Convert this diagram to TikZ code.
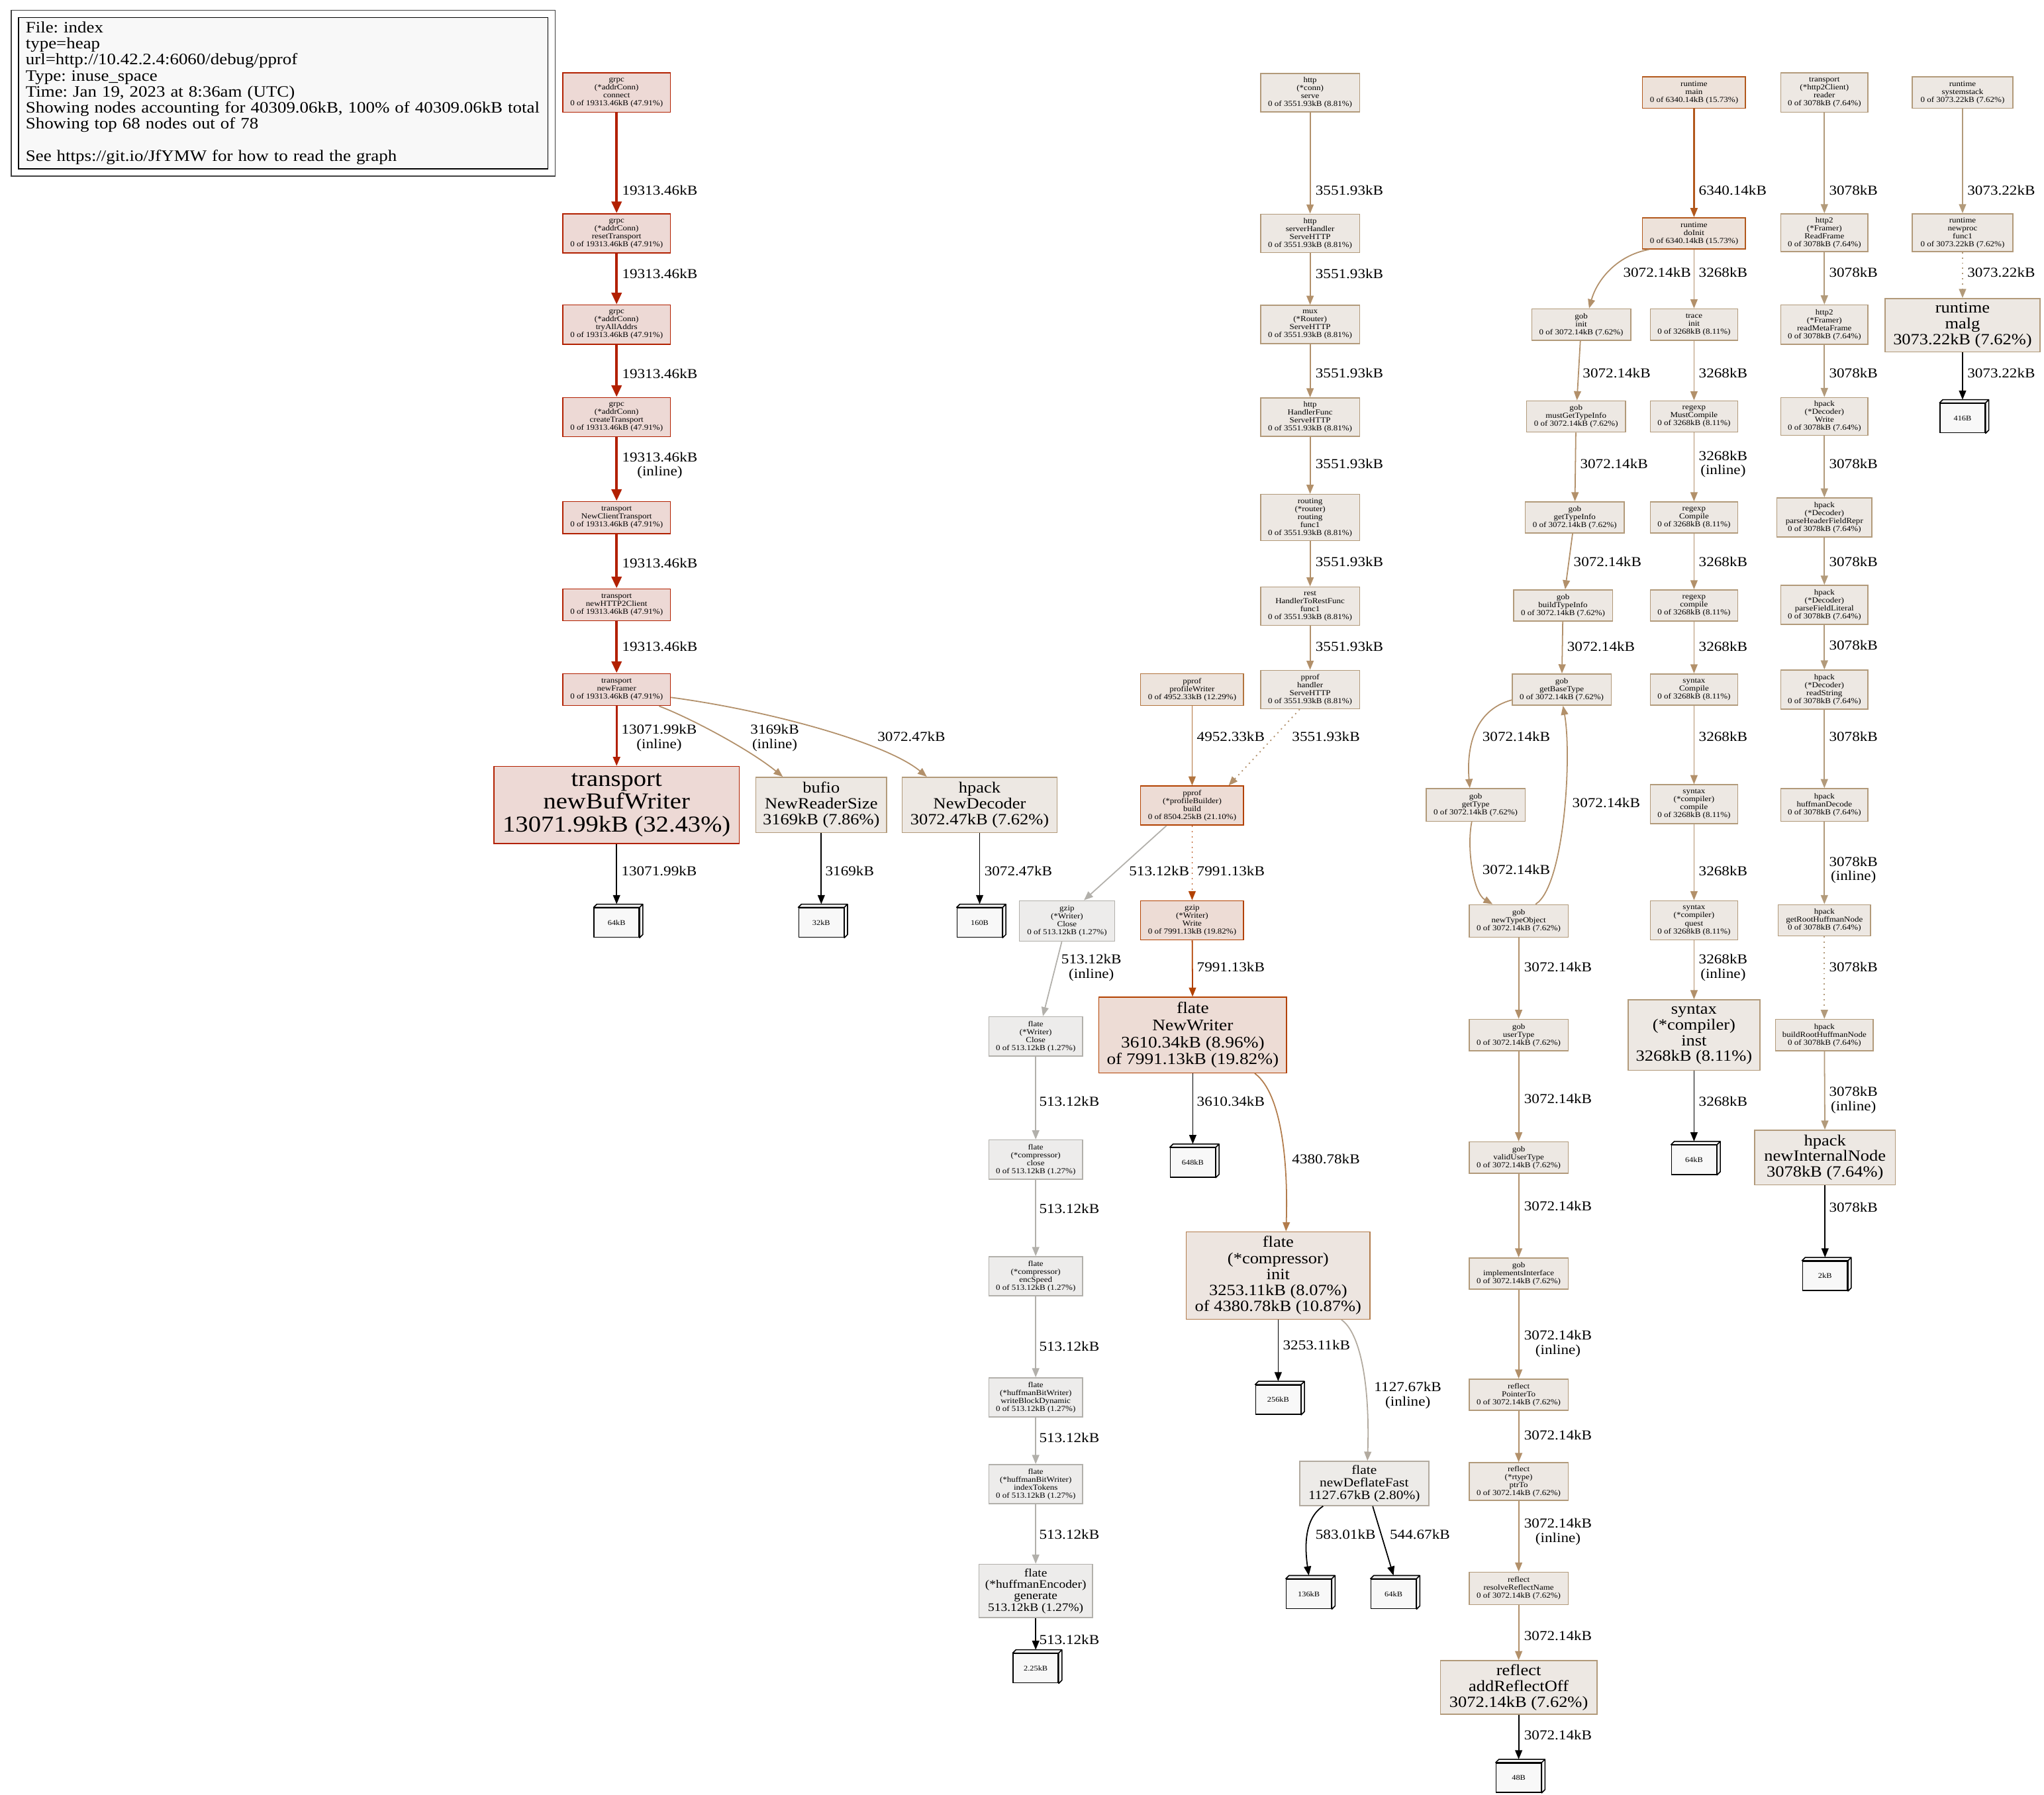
\documentclass[tikz,border=0pt]{standalone}
\usepackage{fontspec}
\setmainfont{Liberation Serif}[FakeStretch=1.12]
\usetikzlibrary{arrows.meta,fit}
\frenchspacing
\definecolor{cRed}{HTML}{B22000}
\definecolor{fRed}{HTML}{EDD9D5}
\definecolor{cOr}{HTML}{B2581C}
\definecolor{fOr}{HTML}{EDE2DA}
\definecolor{cPw}{HTML}{B2743E}
\definecolor{fPw}{HTML}{EDE4DD}
\definecolor{cBd}{HTML}{B24100}
\definecolor{fBd}{HTML}{EDDCD5}
\definecolor{cIn}{HTML}{B27C4C}
\definecolor{fIn}{HTML}{EDE5E0}
\definecolor{cTan}{HTML}{B2906A}
\definecolor{cTanB}{HTML}{B29A7A}
\definecolor{fTan}{HTML}{EDE8E3}
\definecolor{cGr}{HTML}{B2B0AB}
\definecolor{fGr}{HTML}{EDECEB}
\definecolor{cDf}{HTML}{B2AA9F}
\definecolor{fDf}{HTML}{EDEBE8}
\definecolor{fLeaf}{HTML}{F8F8F8}
\newcommand\fszS{\fontsize{5.9}{6.1}\selectfont}
\newcommand\fszE{\fontsize{10.5}{11}\selectfont}
\newcommand\fszM{\fontsize{12}{12.2}\selectfont}
\newcommand\boxthree[1]{\draw[line width=0.8pt, fill=fLeaf, line join=round] (#1.north west) -- ([shift={(2.5pt,2.5pt)}]#1.north west) -- ([shift={(2.5pt,2.5pt)}]#1.north east) -- ([shift={(2.5pt,2.5pt)}]#1.south east) -- (#1.south east) -- (#1.north east) -- cycle (#1.north east) -- ([shift={(2.5pt,2.5pt)}]#1.north east);}
\newcommand\elab[4]{\node[lab] (#1) at (#2,#3) {#4};}
\begin{document}
\begin{tikzpicture}[x=1pt,y=-1pt,
  fn/.style={rectangle, draw, line width=0.8pt, align=center, inner sep=0pt, font=\fszS},
  big/.style={rectangle, draw, line width=0.8pt, align=center, inner sep=0pt, font=\fszM},
  wh/.style 2 args={minimum width=#1pt, minimum height=#2pt},
  nRed/.style={draw=cRed, fill=fRed},
  nOr/.style={draw=cOr, fill=fOr},
  nPw/.style={draw=cPw, fill=fPw},
  nBd/.style={draw=cBd, fill=fBd},
  nIn/.style={draw=cIn, fill=fIn},
  nTan/.style={draw=cTanB, fill=fTan},
  nGr/.style={draw=cGr, fill=fGr},
  nDf/.style={draw=cDf, fill=fDf},
  leaf/.style={rectangle, draw=black, fill=fLeaf, line width=0.8pt, minimum width=34.5pt, minimum height=22.5pt, inner sep=0pt, font=\fontsize{5.6}{6}\selectfont},
  lab/.style={font=\fszE, anchor=west, align=center, inner sep=0pt},
  conn/.style={line width=0.9pt, draw=#1, -{Triangle[length=7pt,width=5.5pt]}},
  conndot/.style={conn=#1, dash pattern=on 1pt off 3pt},
  ethick/.style={line width=2.2pt, draw=cRed, -{Triangle[length=9pt,width=7.5pt]}}
]
\useasboundingbox (0,0) rectangle (1568,1377);

% legend
\node[draw=black, line width=0.8pt, fill=fLeaf, anchor=north west, minimum width=406.3pt, minimum height=116pt, text width=395pt, align=left, inner xsep=5.6pt, inner ysep=0pt, font=\fontsize{12.2}{12.3}\selectfont] (legend) at (13.7,13) {File: index\\type=heap\\url=http://10.42.2.4:6060/debug/pprof\\Type: inuse\_space\\Time: Jan 19, 2023 at 8:36am (UTC)\\\mbox{Showing nodes accounting for 40309.06kB, 100\% of 40309.06kB total}\\Showing top 68 nodes out of 78\\[12.3pt]See https://git.io/JfYMW for how to read the graph};
\node[draw=black!75, line width=0.8pt, fit=(legend), inner sep=5.2pt] (legendframe) {};

% column A
\node[fn,nRed,wh={82.5}{30}] (A1) at (473,71) {grpc\\(*addrConn)\\connect\\0 of 19313.46kB (47.91\%)};
\node[fn,nRed,wh={82.5}{30}] (A2) at (473,179) {grpc\\(*addrConn)\\resetTransport\\0 of 19313.46kB (47.91\%)};
\node[fn,nRed,wh={82.5}{30}] (A3) at (473,249) {grpc\\(*addrConn)\\tryAllAddrs\\0 of 19313.46kB (47.91\%)};
\node[fn,nRed,wh={82.5}{30}] (A4) at (473,320) {grpc\\(*addrConn)\\createTransport\\0 of 19313.46kB (47.91\%)};
\node[fn,nRed,wh={82.5}{24.5}] (A5) at (473,397) {transport\\NewClientTransport\\0 of 19313.46kB (47.91\%)};
\node[fn,nRed,wh={82.5}{24.5}] (A6) at (473,464) {transport\\newHTTP2Client\\0 of 19313.46kB (47.91\%)};
\node[fn,nRed,wh={82.5}{24.5}] (A7) at (473,529) {transport\\newFramer\\0 of 19313.46kB (47.91\%)};
\node[big,nRed,wh={188}{59},font=\fontsize{17.5}{17.5}\selectfont] (A8) at (473,617.5) {transport\\newBufWriter\\13071.99kB (32.43\%)};
\node[big,nTan,wh={100.5}{42.5}] (Bufio) at (630,617.5) {bufio\\NewReaderSize\\3169kB (7.86\%)};
\node[big,nTan,wh={119}{42.5}] (HND) at (751.5,617.5) {hpack\\NewDecoder\\3072.47kB (7.62\%)};

% column B
\node[fn,nTan,wh={76}{29.5}] (B1) at (1005,71) {http\\(*conn)\\serve\\0 of 3551.93kB (8.81\%)};
\node[fn,nTan,wh={76}{29.5}] (B2) at (1005,179) {http\\serverHandler\\ServeHTTP\\0 of 3551.93kB (8.81\%)};
\node[fn,nTan,wh={76}{29.5}] (B3) at (1005,249) {mux\\(*Router)\\ServeHTTP\\0 of 3551.93kB (8.81\%)};
\node[fn,nTan,wh={76}{29.5}] (B4) at (1005,320) {http\\HandlerFunc\\ServeHTTP\\0 of 3551.93kB (8.81\%)};
\node[fn,nTan,wh={76}{35.5}] (B5) at (1005,397) {routing\\(*router)\\routing\\func1\\0 of 3551.93kB (8.81\%)};
\node[fn,nTan,wh={76}{29.5}] (B6) at (1005,465) {rest\\HandlerToRestFunc\\func1\\0 of 3551.93kB (8.81\%)};
\node[fn,nTan,wh={76}{29.5}] (B7) at (1005,529) {pprof\\handler\\ServeHTTP\\0 of 3551.93kB (8.81\%)};

% pprof / flate
\node[fn,nPw,wh={79}{24.5}] (P1) at (914.5,529) {pprof\\profileWriter\\0 of 4952.33kB (12.29\%)};
\node[fn,nBd,wh={79}{30}] (P2) at (914.5,618) {pprof\\(*profileBuilder)\\build\\0 of 8504.25kB (21.10\%)};
\node[fn,nBd,wh={79}{30}] (P3) at (914.5,706) {gzip\\(*Writer)\\Write\\0 of 7991.13kB (19.82\%)};
\node[big,nBd,wh={144}{58},font=\fontsize{12.4}{13}\selectfont] (N1) at (915,794) {flate\\NewWriter\\3610.34kB (8.96\%)\\of 7991.13kB (19.82\%)};
\node[big,nIn,wh={141}{67},font=\fontsize{12}{12.3}\selectfont] (C1) at (980.5,978.5) {flate\\(*compressor)\\init\\3253.11kB (8.07\%)\\of 4380.78kB (10.87\%)};
\node[big,nDf,wh={99}{34},font=\fontsize{9.7}{9.7}\selectfont] (D1) at (1046.5,1138) {flate\\newDeflateFast\\1127.67kB (2.80\%)};
\node[fn,nGr,wh={73}{31}] (G1) at (818.5,706.5) {gzip\\(*Writer)\\Close\\0 of 513.12kB (1.27\%)};
\node[fn,nGr,wh={72}{30}] (F1) at (794.5,795) {flate\\(*Writer)\\Close\\0 of 513.12kB (1.27\%)};
\node[fn,nGr,wh={72}{30}] (F2) at (794.5,889.5) {flate\\(*compressor)\\close\\0 of 513.12kB (1.27\%)};
\node[fn,nGr,wh={72}{30}] (F3) at (794.5,979) {flate\\(*compressor)\\encSpeed\\0 of 513.12kB (1.27\%)};
\node[fn,nGr,wh={72}{30}] (F4) at (794.5,1072) {flate\\(*huffmanBitWriter)\\writeBlockDynamic\\0 of 513.12kB (1.27\%)};
\node[fn,nGr,wh={72}{30}] (F5) at (794.5,1138.5) {flate\\(*huffmanBitWriter)\\indexTokens\\0 of 513.12kB (1.27\%)};
\node[big,nGr,wh={87}{41},font=\fontsize{8.8}{8.8}\selectfont] (F6) at (794.5,1220.5) {flate\\(*huffmanEncoder)\\generate\\513.12kB (1.27\%)};

% runtime / gob / regexp
\node[fn,nOr,wh={79}{24}] (R1) at (1299.5,71) {runtime\\main\\0 of 6340.14kB (15.73\%)};
\node[fn,nOr,wh={79}{24}] (R2) at (1299.5,179) {runtime\\doInit\\0 of 6340.14kB (15.73\%)};
\node[fn,nTan,wh={76}{24}] (Ginit) at (1213,249) {gob\\init\\0 of 3072.14kB (7.62\%)};
\node[fn,nTan,wh={67}{24}] (Trinit) at (1299.5,249) {trace\\init\\0 of 3268kB (8.11\%)};
\node[fn,nTan,wh={76}{24}] (GmustGet) at (1209,319.5) {gob\\mustGetTypeInfo\\0 of 3072.14kB (7.62\%)};
\node[fn,nTan,wh={67}{24}] (RxMust) at (1299.5,319.5) {regexp\\MustCompile\\0 of 3268kB (8.11\%)};
\node[fn,nTan,wh={76}{24}] (GgetTI) at (1208,397) {gob\\getTypeInfo\\0 of 3072.14kB (7.62\%)};
\node[fn,nTan,wh={67}{24}] (RxComp) at (1299.5,397) {regexp\\Compile\\0 of 3268kB (8.11\%)};
\node[fn,nTan,wh={76}{24}] (GbuildTI) at (1199,464.5) {gob\\buildTypeInfo\\0 of 3072.14kB (7.62\%)};
\node[fn,nTan,wh={67}{24}] (Rxcomp) at (1299.5,464.5) {regexp\\compile\\0 of 3268kB (8.11\%)};
\node[fn,nTan,wh={76}{24}] (GgetBT) at (1198,529) {gob\\getBaseType\\0 of 3072.14kB (7.62\%)};
\node[fn,nTan,wh={67}{24}] (SxComp) at (1299.5,529) {syntax\\Compile\\0 of 3268kB (8.11\%)};
\node[fn,nTan,wh={67}{30}] (SxComp2) at (1299.5,617) {syntax\\(*compiler)\\compile\\0 of 3268kB (8.11\%)};
\node[fn,nTan,wh={67}{30}] (SxQuest) at (1299.5,706) {syntax\\(*compiler)\\quest\\0 of 3268kB (8.11\%)};
\node[big,nTan,wh={101}{54},font=\fontsize{12}{12}\selectfont] (SxInst) at (1299.5,794) {syntax\\(*compiler)\\inst\\3268kB (8.11\%)};
\node[fn,nTan,wh={76}{25}] (GgetType) at (1132,617.5) {gob\\getType\\0 of 3072.14kB (7.62\%)};
\node[fn,nTan,wh={76}{25}] (GnewTO) at (1165,706.5) {gob\\newTypeObject\\0 of 3072.14kB (7.62\%)};
\node[fn,nTan,wh={76}{24}] (GuserT) at (1165,794) {gob\\userType\\0 of 3072.14kB (7.62\%)};
\node[fn,nTan,wh={76}{24}] (GvalidUT) at (1165,888) {gob\\validUserType\\0 of 3072.14kB (7.62\%)};
\node[fn,nTan,wh={76}{24}] (GimplI) at (1165,977) {gob\\implementsInterface\\0 of 3072.14kB (7.62\%)};
\node[fn,nTan,wh={76}{24}] (RfPtrTo) at (1165,1070) {reflect\\PointerTo\\0 of 3072.14kB (7.62\%)};
\node[fn,nTan,wh={76}{29}] (RfptrTo) at (1165,1136.5) {reflect\\(*rtype)\\ptrTo\\0 of 3072.14kB (7.62\%)};
\node[fn,nTan,wh={76}{25}] (RfResolve) at (1165,1218.5) {reflect\\resolveReflectName\\0 of 3072.14kB (7.62\%)};
\node[big,nTan,wh={120}{41},font=\fontsize{12}{12}\selectfont] (RfAdd) at (1165,1294.5) {reflect\\addReflectOff\\3072.14kB (7.62\%)};

% hpack column
\node[fn,nTan,wh={67}{30}] (T1) at (1399.5,71) {transport\\(*http2Client)\\reader\\0 of 3078kB (7.64\%)};
\node[fn,nTan,wh={67}{29}] (T2) at (1399.5,178.5) {http2\\(*Framer)\\ReadFrame\\0 of 3078kB (7.64\%)};
\node[fn,nTan,wh={67}{30}] (T3) at (1399.5,249) {http2\\(*Framer)\\readMetaFrame\\0 of 3078kB (7.64\%)};
\node[fn,nTan,wh={67}{29}] (T4) at (1399.5,319.5) {hpack\\(*Decoder)\\Write\\0 of 3078kB (7.64\%)};
\node[fn,nTan,wh={73}{30}] (T5) at (1399.5,397) {hpack\\(*Decoder)\\parseHeaderFieldRepr\\0 of 3078kB (7.64\%)};
\node[fn,nTan,wh={67}{30}] (T6) at (1399.5,464) {hpack\\(*Decoder)\\parseFieldLiteral\\0 of 3078kB (7.64\%)};
\node[fn,nTan,wh={67}{30}] (T7) at (1399.5,529) {hpack\\(*Decoder)\\readString\\0 of 3078kB (7.64\%)};
\node[fn,nTan,wh={67}{25}] (T8) at (1399.5,617.5) {hpack\\huffmanDecode\\0 of 3078kB (7.64\%)};
\node[fn,nTan,wh={71}{24}] (T9) at (1399.5,706) {hpack\\getRootHuffmanNode\\0 of 3078kB (7.64\%)};
\node[fn,nTan,wh={75}{24}] (T10) at (1399.5,794) {hpack\\buildRootHuffmanNode\\0 of 3078kB (7.64\%)};
\node[big,nTan,wh={108}{42},font=\fontsize{12}{12}\selectfont] (T11) at (1400,888) {hpack\\newInternalNode\\3078kB (7.64\%)};

% systemstack column
\node[fn,nTan,wh={77}{24}] (S1) at (1505.5,71) {runtime\\systemstack\\0 of 3073.22kB (7.62\%)};
\node[fn,nTan,wh={77}{29}] (S2) at (1505.5,178.5) {runtime\\newproc\\func1\\0 of 3073.22kB (7.62\%)};
\node[big,nTan,wh={119}{41},font=\fontsize{12}{12}\selectfont] (S3) at (1505.5,249.5) {runtime\\malg\\3073.22kB (7.62\%)};

% leaves
\node[leaf] (L1) at (473,707.75) {64kB};
\node[leaf] (L2) at (630,707.75) {32kB};
\node[leaf] (L3) at (751.5,707.75) {160B};
\node[leaf] (L4) at (915,891.75) {648kB};
\node[leaf] (L5) at (980.5,1073.75) {256kB};
\node[leaf] (L6) at (1004,1222.75) {136kB};
\node[leaf] (L7) at (1069,1222.75) {64kB};
\node[leaf] (L8) at (794.5,1279.75) {2.25kB};
\node[leaf] (L9) at (1165,1363.75) {48B};
\node[leaf] (L10) at (1299.5,889.75) {64kB};
\node[leaf] (L11) at (1400,978.75) {2kB};
\node[leaf] (L12) at (1505.5,320.75) {416B};
\foreach \n in {L1,L2,L3,L4,L5,L6,L7,L8,L9,L10,L11,L12} {\boxthree{\n}}

% edges column A
\draw[ethick] (A1) -- (A2);
\draw[ethick] (A2) -- (A3);
\draw[ethick] (A3) -- (A4);
\draw[ethick] (A4) -- (A5);
\draw[ethick] (A5) -- (A6);
\draw[ethick] (A6) -- (A7);
\draw[conn=cRed, line width=1.3pt] (A7) -- (A8);
\draw[conn=cTan] ([xshift=32.6pt]A7.south) .. controls (530,551) and (575,575) .. ([xshift=-29.5pt]Bufio.north);
\draw[conn=cTan] ([yshift=-6pt]A7.east) .. controls (590,545) and (680,570) .. ([xshift=-40.5pt]HND.north);
\draw[conn=black] (A8) -- ([yshift=2.5pt]L1.north);
\draw[conn=black] (Bufio) -- ([yshift=2.5pt]L2.north);
\draw[conn=black] (HND) -- ([yshift=2.5pt]L3.north);

% edges column B
\draw[conn=cTan] (B1) -- (B2);
\draw[conn=cTan] (B2) -- (B3);
\draw[conn=cTan] (B3) -- (B4);
\draw[conn=cTan] (B4) -- (B5);
\draw[conn=cTan] (B5) -- (B6);
\draw[conn=cTan] (B6) -- (B7);
\draw[conndot=cTan] ([xshift=-8pt]B7.south) -- ([xshift=28pt]P2.north);
\draw[conn=cPw] (P1) -- (P2);
\draw[conn=cGr] ([xshift=-19.7pt]P2.south) -- ([xshift=13pt]G1.north);
\draw[conndot=cBd] (P2) -- (P3);
\draw[conn=cBd] (P3) -- (N1);
\draw[conn=cGr] ([xshift=-4pt]G1.south) -- ([xshift=5.5pt]F1.north);
\draw[conn=cGr] (F1) -- (F2);
\draw[conn=cGr] (F2) -- (F3);
\draw[conn=cGr] (F3) -- (F4);
\draw[conn=cGr] (F4) -- (F5);
\draw[conn=cGr] (F5) -- (F6);
\draw[conn=black] (F6) -- ([yshift=2.5pt]L8.north);
\draw[conn=black] (N1) -- ([yshift=2.5pt]L4.north);
\draw[conn=cIn] ([xshift=47.5pt]N1.south) .. controls (985,840) and (988,900) .. ([xshift=6pt]C1.north);
\draw[conn=black] (C1) -- ([yshift=2.5pt]L5.north);
\draw[conn=cDf] ([xshift=48.5pt]C1.south) .. controls (1043,1022) and (1051,1060) .. ([xshift=2.5pt]D1.north);
\draw[conn=black] ([xshift=-31.5pt]D1.south) .. controls (1000,1165) and (1001,1188) .. ([yshift=2.5pt]L6.north);
\draw[conn=black] ([xshift=6.5pt]D1.south) -- ([yshift=2.5pt]L7.north);

% runtime / gob / regexp edges
\draw[conn=cOr, line width=1.1pt] (R1) -- (R2);
\draw[conn=cTan] ([xshift=-34.5pt]R2.south) .. controls (1240,196) and (1225,215) .. ([xshift=6pt]Ginit.north);
\draw[conn=cTan] (R2) -- (Trinit);
\draw[conn=cTan] (Ginit) -- (GmustGet);
\draw[conn=cTan] (GmustGet) -- (GgetTI);
\draw[conn=cTan] (GgetTI) -- (GbuildTI);
\draw[conn=cTan] (GbuildTI) -- (GgetBT);
\draw[conn=cTan] ([yshift=-8pt]GgetBT.west) .. controls (1130,545) and (1125,575) .. ([xshift=-4.5pt]GgetType.north);
\draw[conn=cTan] ([xshift=-3pt]GgetType.south) .. controls (1125,650) and (1130,685) .. ([xshift=-20pt]GnewTO.north);
\draw[conn=cTan] ([xshift=13pt]GnewTO.north) .. controls (1200,680) and (1206,580) .. ([xshift=1pt]GgetBT.south);
\draw[conn=cTan] (GnewTO) -- (GuserT);
\draw[conn=cTan] (GuserT) -- (GvalidUT);
\draw[conn=cTan] (GvalidUT) -- (GimplI);
\draw[conn=cTan] (GimplI) -- (RfPtrTo);
\draw[conn=cTan] (RfPtrTo) -- (RfptrTo);
\draw[conn=cTan] (RfptrTo) -- (RfResolve);
\draw[conn=cTan] (RfResolve) -- (RfAdd);
\draw[conn=black] (RfAdd) -- ([yshift=2.5pt]L9.north);
\draw[conn=cTan] (Trinit) -- (RxMust);
\draw[conn=cTan] (RxMust) -- (RxComp);
\draw[conn=cTan] (RxComp) -- (Rxcomp);
\draw[conn=cTan] (Rxcomp) -- (SxComp);
\draw[conn=cTan] (SxComp) -- (SxComp2);
\draw[conn=cTan] (SxComp2) -- (SxQuest);
\draw[conn=cTan] (SxQuest) -- (SxInst);
\draw[conn=black] (SxInst) -- ([yshift=2.5pt]L10.north);

% hpack edges
\draw[conn=cTanB] (T1) -- (T2);
\draw[conn=cTanB] (T2) -- (T3);
\draw[conn=cTanB] (T3) -- (T4);
\draw[conn=cTanB] (T4) -- (T5);
\draw[conn=cTanB] (T5) -- (T6);
\draw[conn=cTanB] (T6) -- (T7);
\draw[conn=cTanB] (T7) -- (T8);
\draw[conn=cTanB] (T8) -- (T9);
\draw[conndot=cTanB] (T9) -- (T10);
\draw[conn=cTanB] (T10) -- (T11);
\draw[conn=black] (T11) -- ([yshift=2.5pt]L11.north);
\draw[conn=cTanB] (S1) -- (S2);
\draw[conndot=cTanB] (S2) -- (S3);
\draw[conn=black] (S3) -- ([yshift=2.5pt]L12.north);

% labels
\elab{la1}{477}{146}{19313.46kB}
\elab{la2}{477}{210}{19313.46kB}
\elab{la3}{477}{286.5}{19313.46kB}
\elab{la4}{477}{357}{19313.46kB\\(inline)}
\elab{la5}{477}{432}{19313.46kB}
\elab{la6}{477}{496}{19313.46kB}
\elab{la7}{476.5}{566}{13071.99kB\\(inline)}
\elab{la8}{575.5}{566}{3169kB\\(inline)}
\elab{la9}{673}{565}{3072.47kB}
\elab{la10}{476.5}{668}{13071.99kB}
\elab{la11}{633}{668}{3169kB}
\elab{la12}{755}{668}{3072.47kB}
\elab{lb1}{1009}{146}{3551.93kB}
\elab{lb2}{1009}{210}{3551.93kB}
\elab{lb3}{1009}{286}{3551.93kB}
\elab{lb4}{1009}{356}{3551.93kB}
\elab{lb5}{1009}{431}{3551.93kB}
\elab{lb6}{1009}{496}{3551.93kB}
\elab{lp1}{918}{565}{4952.33kB}
\elab{lp2}{991}{565}{3551.93kB}
\elab{lp3}{866}{668}{513.12kB}
\elab{lp4}{918}{668}{7991.13kB}
\elab{lp5}{918}{742}{7991.13kB}
\elab{lf0}{814}{742.5}{513.12kB\\(inline)}
\elab{lf1}{797}{845}{513.12kB}
\elab{lf2}{797}{927}{513.12kB}
\elab{lf3}{797}{1033}{513.12kB}
\elab{lf4}{797}{1103}{513.12kB}
\elab{lf5}{797}{1177}{513.12kB}
\elab{lf6}{797}{1258}{513.12kB}
\elab{ln1}{918}{845}{3610.34kB}
\elab{ln2}{991}{889}{4380.78kB}
\elab{lc1}{984}{1032}{3253.11kB}
\elab{lc2}{1054}{1070.5}{1127.67kB\\(inline)}
\elab{ld1}{1009}{1177}{583.01kB}
\elab{ld2}{1066}{1177}{544.67kB}
\elab{lr1}{1303}{146}{6340.14kB}
\elab{lr2}{1245}{209}{3072.14kB}
\elab{lr3}{1303}{209}{3268kB}
\elab{lg1}{1214}{286}{3072.14kB}
\elab{lx1}{1303}{286}{3268kB}
\elab{lg2}{1212}{356}{3072.14kB}
\elab{lx2}{1303}{356}{3268kB\\(inline)}
\elab{lg3}{1207}{431}{3072.14kB}
\elab{lx3}{1303}{431}{3268kB}
\elab{lg4}{1202}{496}{3072.14kB}
\elab{lx4}{1303}{496}{3268kB}
\elab{lg5}{1137}{565}{3072.14kB}
\elab{lx5}{1303}{565}{3268kB}
\elab{lg6}{1206}{616}{3072.14kB}
\elab{lx6}{1303}{668}{3268kB}
\elab{lg7}{1137}{667}{3072.14kB}
\elab{lx7}{1303}{742.5}{3268kB\\(inline)}
\elab{lx8}{1303}{845}{3268kB}
\elab{lg8}{1169}{742}{3072.14kB}
\elab{lg9}{1169}{843}{3072.14kB}
\elab{lg10}{1169}{925}{3072.14kB}
\elab{lg11}{1169}{1031}{3072.14kB\\(inline)}
\elab{lg12}{1169}{1101}{3072.14kB}
\elab{lg13}{1169}{1175}{3072.14kB\\(inline)}
\elab{lg14}{1169}{1255}{3072.14kB}
\elab{lg15}{1169}{1331}{3072.14kB}
\elab{lt1}{1403}{146}{3078kB}
\elab{lt2}{1403}{209}{3078kB}
\elab{lt3}{1403}{286}{3078kB}
\elab{lt4}{1403}{356}{3078kB}
\elab{lt5}{1403}{431}{3078kB}
\elab{lt6}{1403}{495}{3078kB}
\elab{lt7}{1403}{565}{3078kB}
\elab{lt8}{1403}{667.5}{3078kB\\(inline)}
\elab{lt9}{1403}{742}{3078kB}
\elab{lt10}{1403}{844}{3078kB\\(inline)}
\elab{lt11}{1403}{926}{3078kB}
\elab{ls1}{1509}{146}{3073.22kB}
\elab{ls2}{1509}{209}{3073.22kB}
\elab{ls3}{1509}{286}{3073.22kB}
\end{tikzpicture}
\end{document}
